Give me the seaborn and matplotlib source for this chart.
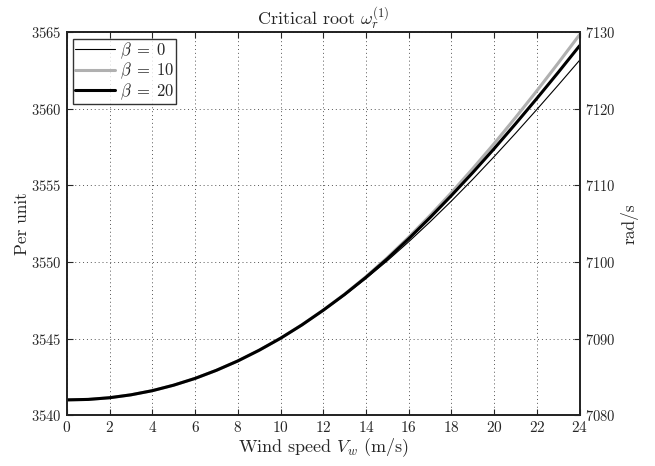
# Critical root omega_r^(1) versus wind speed for three pitch angles

import numpy as np
import pandas as pd
import seaborn as sns
import matplotlib.pyplot as plt

sns.set_style('ticks')
plt.rcParams['font.family'] = ['cmr10', 'DejaVu Serif']
plt.rcParams['mathtext.fontset'] = 'cm'
plt.rcParams['axes.formatter.use_mathtext'] = True
plt.rcParams['axes.unicode_minus'] = False

# values (per unit), one per m/s
wind_speed = list(range(0, 25))
beta_0 = [3541.00, 3541.03, 3541.14, 3541.33, 3541.60, 3541.96, 3542.40,
          3542.93, 3543.54, 3544.24, 3545.02, 3545.88, 3546.82, 3547.83,
          3548.92, 3550.08, 3551.32, 3552.62, 3553.98, 3555.40, 3556.88,
          3558.40, 3559.96, 3561.55, 3563.17]
beta_10 = [3541.00, 3541.03, 3541.14, 3541.33, 3541.60, 3541.96, 3542.40,
           3542.93, 3543.54, 3544.24, 3545.02, 3545.90, 3546.86, 3547.90,
           3549.04, 3550.28, 3551.62, 3553.04, 3554.53, 3556.10, 3557.73,
           3559.43, 3561.18, 3562.99, 3564.84]
beta_20 = [3541.00, 3541.03, 3541.14, 3541.33, 3541.60, 3541.96, 3542.40,
           3542.93, 3543.54, 3544.24, 3545.02, 3545.89, 3546.85, 3547.88,
           3549.00, 3550.21, 3551.52, 3552.90, 3554.34, 3555.84, 3557.40,
           3559.02, 3560.68, 3562.38, 3564.12]

series = {'$\\beta\\;=\\;0$': beta_0, '$\\beta\\;=\\;10$': beta_10, '$\\beta\\;=\\;20$': beta_20}
colors = ['black', '#b0b0b0', 'black']
widths = [0.8, 2.2, 2.2]

fig = plt.figure(figsize=(6.55, 4.66), dpi=100)
ax = fig.add_axes([0.102, 0.109, 0.783, 0.822])

for (name, vals), col, lw in zip(series.items(), colors, widths):
    df = pd.DataFrame({'V': wind_speed, 'w': vals})
    sns.lineplot(data=df, x='V', y='w', ax=ax, color=col, linewidth=lw, label=name)

ax.set_xlim(0, 24)
ax.set_ylim(3540, 3565)
ax.set_xticks(np.arange(0, 25, 2))
ax.set_yticks(np.arange(3540, 3566, 5))
ax.grid(True, linestyle=(0, (1, 3)), color='#555555', linewidth=0.7)
ax.tick_params(direction='in', top=True, right=False, labelsize=10.5, length=4, width=0.8)
ax.tick_params(axis='x', labelsize=11)
for s in ax.spines.values():
    s.set_linewidth(1.2)
    s.set_color('black')

ax.set_xlabel('Wind speed $V_w$ (m/s)', fontsize=13, labelpad=1)
ax.set_ylabel('Per unit', fontsize=12.5, labelpad=1)
ax.set_title('Critical root $\\omega_r^{(1)}$', fontsize=13, pad=4)

leg = ax.legend(loc='upper left', fontsize=12, frameon=True, fancybox=False,
                borderpad=0.1, labelspacing=0.0, handlelength=2.4,
                handletextpad=0.3, borderaxespad=0.4)
leg.get_frame().set_edgecolor('black')
leg.get_frame().set_linewidth(1.0)

ax2 = ax.twinx()
ax2.set_ylim(7080, 7130)
ax2.set_yticks(np.arange(7080, 7131, 10))
ax2.tick_params(direction='in', labelsize=10.5, length=4, width=0.8)
ax2.set_ylabel('rad/s', fontsize=12.5, labelpad=4)
for s in ax2.spines.values():
    s.set_linewidth(1.2)

fig.savefig('out.png', dpi=100)
